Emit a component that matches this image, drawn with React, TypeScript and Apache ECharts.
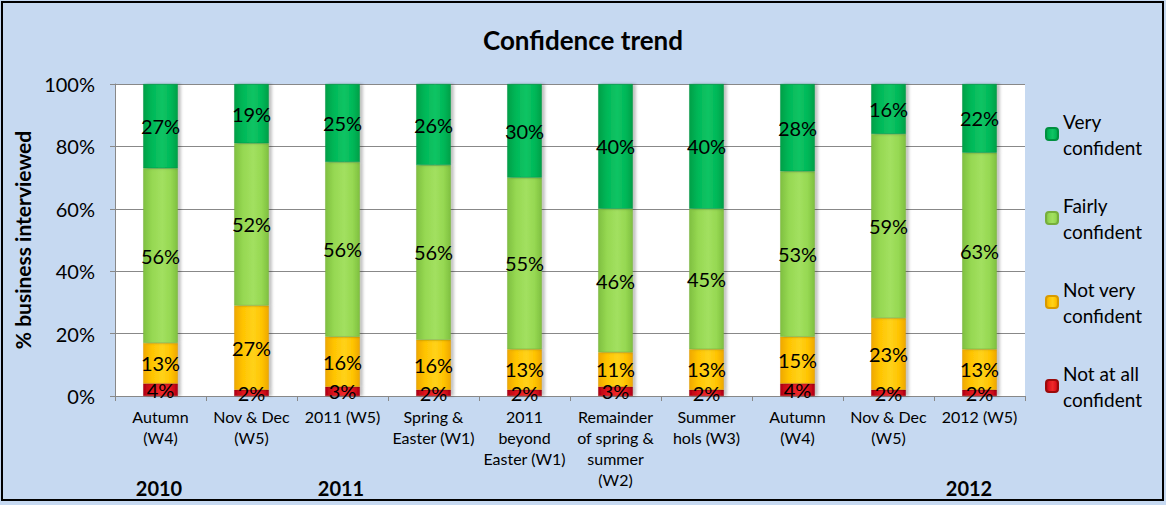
import React, { useEffect, useRef } from "react";
import * as echarts from "echarts";

const categories = [
  "Autumn\n(W4)",
  "Nov & Dec\n(W5)",
  "2011 (W5)",
  "Spring &\nEaster (W1)",
  "2011\nbeyond\nEaster (W1)",
  "Remainder\nof spring &\nsummer\n(W2)",
  "Summer\nhols (W3)",
  "Autumn\n(W4)",
  "Nov & Dec\n(W5)",
  "2012 (W5)",
];
const notAtAll = [4, 2, 3, 2, 2, 3, 2, 4, 2, 2];
const notVery = [13, 27, 16, 16, 13, 11, 13, 15, 23, 13];
const fairly = [56, 52, 56, 56, 55, 46, 45, 53, 59, 63];
const very = [27, 19, 25, 26, 30, 40, 40, 28, 16, 22];
const seriesNames = ["Not at all\nconfident", "Not very\nconfident", "Fairly\nconfident", "Very\nconfident"];
const legendOrder = ["Very\nconfident", "Fairly\nconfident", "Not very\nconfident", "Not at all\nconfident"];
const yTicks = [0, 20, 40, 60, 80, 100];
const years = ["2010", "2011", "2012"];

const FONT = "Lato, 'Open Sans', sans-serif";

function grad(edge: string, mid: string, hi: string) {
  return new echarts.graphic.LinearGradient(0, 0, 1, 0, [
    { offset: 0, color: edge },
    { offset: 0.25, color: mid },
    { offset: 0.55, color: hi },
    { offset: 0.8, color: mid },
    { offset: 1, color: edge },
  ]);
}

const colors = [
  { fill: grad("#B00010", "#E0141E", "#EE2A2A"), border: "#9A0A0A" },
  { fill: grad("#EFA800", "#FFC400", "#FFD21A"), border: "#D89A00" },
  { fill: grad("#7FC040", "#96D852", "#A2E060"), border: "#76AE3C" },
  { fill: grad("#00A048", "#00B858", "#10C464"), border: "#009040" },
];

export default function App() {
  const ref = useRef<HTMLDivElement>(null);
  useEffect(() => {
    if (!ref.current) return;
    const chart = echarts.init(ref.current, undefined, { renderer: "svg" });
    const dataSets = [notAtAll, notVery, fairly, very];
    const yearX = [159, 341, 969];
    chart.setOption({
      animation: false,
      backgroundColor: "#C6D9F1",
      textStyle: { fontFamily: FONT },
      title: {
        text: "Confidence trend",
        left: "center",
        top: 22,
        textStyle: { fontFamily: FONT, fontSize: 26, fontWeight: "bold", color: "#000" },
      },
      legend: {
        data: legendOrder,
        orient: "vertical",
        left: 1040,
        top: 103,
        itemWidth: 12,
        itemHeight: 12,
        itemGap: 32,
        textStyle: { fontFamily: FONT, fontSize: 19, lineHeight: 26, color: "#000" },
      },
      grid: {
        left: 115,
        top: 84,
        right: 141,
        bottom: 109,
        show: true,
        backgroundColor: "#FFFFFF",
        borderWidth: 0,
      },
      xAxis: {
        type: "category",
        data: categories,
        axisLine: { lineStyle: { color: "#888888", width: 1 } },
        axisTick: { show: true, length: 5, lineStyle: { color: "#888888" } },
        axisLabel: {
          interval: 0,
          margin: 10,
          fontFamily: FONT,
          fontSize: 16,
          lineHeight: 21,
          color: "#000",
        },
      },
      yAxis: {
        type: "value",
        min: 0,
        max: 100,
        interval: 20,
        name: "% business interviewed",
        nameLocation: "middle",
        nameGap: 74,
        nameTextStyle: { fontFamily: FONT, fontSize: 21, fontWeight: "bold", color: "#000" },
        axisLine: { show: true, lineStyle: { color: "#888888" } },
        axisTick: { show: true, length: 5, lineStyle: { color: "#888888" } },
        splitLine: { lineStyle: { color: "#888888", width: 1 } },
        axisLabel: {
          margin: 20,
          fontFamily: FONT,
          fontSize: 20,
          color: "#000",
          formatter: (v: number) => (yTicks.includes(v) ? v + "%" : ""),
        },
      },
      series: seriesNames.map((name, i) => ({
        name,
        type: "bar",
        stack: "total",
        barWidth: "38%",
        data: dataSets[i],
        itemStyle: {
          color: colors[i].fill,
          borderColor: colors[i].border,
          borderWidth: 0.5,
          shadowColor: "rgba(0,0,0,0.25)",
          shadowBlur: 3,
          shadowOffsetX: 3,
        },
        label: {
          show: true,
          position: "inside",
          fontFamily: FONT,
          fontSize: 20,
          color: "#000",
          formatter: (p: any) => p.value + "%",
        },
      })),
      graphic: [
        {
          type: "rect",
          shape: { x: 2, y: 2, width: 1161, height: 498 },
          style: { fill: "none", stroke: "#000", lineWidth: 2 },
          silent: true,
        },
        ...years.map((y, i) => ({
          type: "text",
          x: yearX[i],
          y: 488,
          style: {
            text: y,
            fontFamily: FONT,
            fontSize: 20,
            fontWeight: "bold",
            fill: "#000",
            align: "center",
            verticalAlign: "middle",
          },
        })),
      ],
    });
    return () => chart.dispose();
  }, []);
  return (
    <div
      ref={ref}
      style={{ position: "fixed", left: 0, top: 0, width: 1166, height: 505 }}
    />
  );
}
